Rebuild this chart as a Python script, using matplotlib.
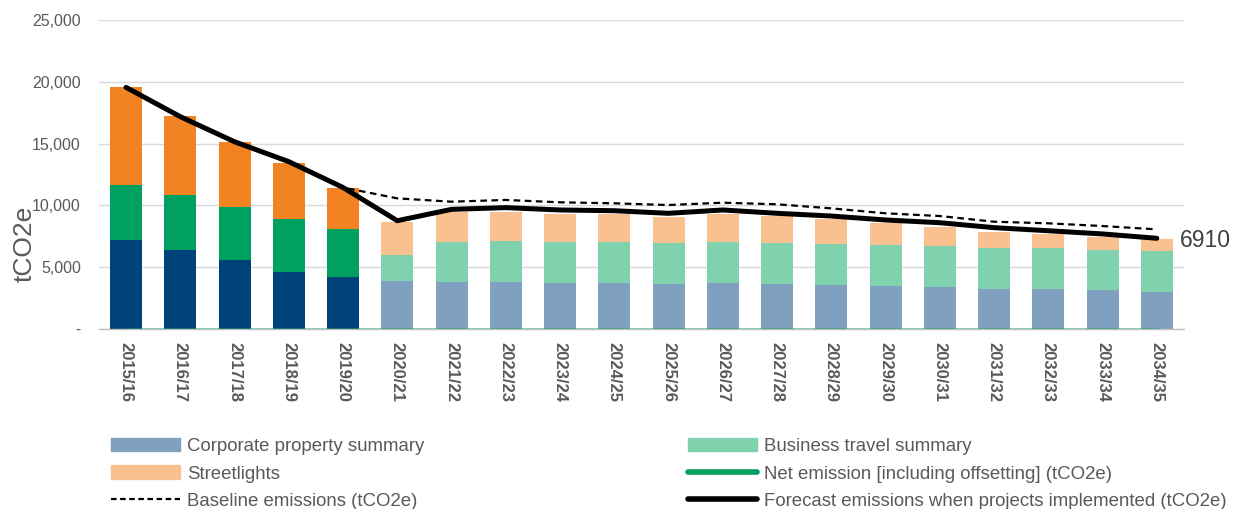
import matplotlib
matplotlib.use("Agg")
import matplotlib.pyplot as plt
from matplotlib.patches import Patch
from matplotlib.lines import Line2D
from matplotlib.ticker import FuncFormatter

plt.rcParams['font.family'] = ['Liberation Sans', 'DejaVu Sans']

years = ['2015/16', '2016/17', '2017/18', '2018/19', '2019/20', '2020/21', '2021/22',
         '2022/23', '2023/24', '2024/25', '2025/26', '2026/27', '2027/28', '2028/29',
         '2029/30', '2030/31', '2031/32', '2032/33', '2033/34', '2034/35']
corporate = [7200, 6390, 5580, 4610, 4210, 3880, 3800, 3800, 3720, 3720, 3640, 3720,
             3640, 3560, 3480, 3370, 3260, 3240, 3160, 2990]
business = [4450, 4450, 4290, 4290, 3880, 2110, 3260, 3300, 3320, 3320, 3320, 3320,
            3320, 3320, 3320, 3350, 3290, 3310, 3260, 3350]
streetlights = [7930, 6390, 5260, 4530, 3320, 2690, 2410, 2400, 2260, 2260, 2120, 2260,
                2180, 2020, 1800, 1560, 1330, 1110, 1000, 970]
net_emission = [0] * 20
baseline = [19550, 17180, 15150, 13540, 11450, 10570, 10300, 10440, 10250, 10170, 10030,
            10220, 10090, 9760, 9360, 9140, 8680, 8550, 8330, 8060]
forecast = [19550, 17180, 15150, 13540, 11450, 8760, 9680, 9820, 9630, 9570, 9360, 9630,
            9360, 9140, 8820, 8600, 8200, 7950, 7690, 7340]
end_label = "6910"
n_actual = 5

dark = {'corp': '#00427A', 'bus': '#00A160', 'str': '#F28322'}
light = {'corp': '#7FA1BF', 'bus': '#80D1AE', 'str': '#F9C190'}
grey = '#595959'

fig = plt.figure(figsize=(12.33, 5.09), dpi=100)
ax = fig.add_axes([98.9 / 1233, 1 - 329 / 509, 1085 / 1233, 309 / 509])

x = list(range(len(years)))
def cols(key):
    return [dark[key] if i < n_actual else light[key] for i in x]

w = 0.59
ax.bar(x, corporate, width=w, color=cols('corp'), zorder=2)
bot2 = [a for a in corporate]
ax.bar(x, business, width=w, bottom=bot2, color=cols('bus'), zorder=2)
bot3 = [a + b for a, b in zip(corporate, business)]
ax.bar(x, streetlights, width=w, bottom=bot3, color=cols('str'), zorder=2)

ax.plot(x, net_emission, color='#00A160', lw=2.0, zorder=3, alpha=0.45)
ax.plot(x, baseline, color='black', lw=1.6, dashes=(3, 2), zorder=3)
ax.plot(x, forecast, color='black', lw=3.6, solid_capstyle='round',
        solid_joinstyle='round', zorder=4)

ax.text(19.42, 7200, end_label, fontsize=16.5, color='#404040', va='center', ha='left',
        clip_on=False)

ax.set_xlim(-0.5, 19.5)
ax.set_ylim(0, 25000)
ax.set_yticks(range(0, 25001, 5000))
ax.yaxis.set_major_formatter(FuncFormatter(lambda v, p: '-' if v == 0 else f'{int(v):,}'))
ax.grid(axis='y', color='#D9D9D9', lw=1, zorder=0)
ax.set_axisbelow(True)
ax.set_xticks(x)
ax.set_xticklabels(years, rotation=-90, fontweight='bold', fontsize=12, color=grey)
ax.tick_params(axis='x', length=0, pad=9)
ax.tick_params(axis='y', length=0, pad=13, labelsize=11.5, labelcolor=grey)
for s in ['top', 'right', 'left']:
    ax.spines[s].set_visible(False)
ax.spines['bottom'].set_color('#BFBFBF')
ax.spines['bottom'].set_linewidth(1)

ax.text(-0.068, 0.275, 'tCO2e', transform=ax.transAxes, rotation=90, fontsize=19,
        color=grey, ha='center', va='center')

h_corp = Patch(color=light['corp'])
h_str = Patch(color=light['str'])
h_base = Line2D([], [], color='black', lw=1.6, dashes=(2.5, 1.6))
h_bus = Patch(color=light['bus'])
h_net = Line2D([], [], color='#00A160', lw=4, solid_capstyle='round')
h_fc = Line2D([], [], color='black', lw=4, solid_capstyle='round')

common = dict(frameon=False, fontsize=13.4, handlelength=3.7, handletextpad=0.4,
              labelspacing=0.56, borderpad=0, borderaxespad=0, loc='center left',
              labelcolor=grey)
fig.legend([h_corp, h_str, h_base],
           ['Corporate property summary', 'Streetlights', 'Baseline emissions (tCO2e)'],
           bbox_to_anchor=(111 / 1233, 1 - 474 / 509), **common)
fig.legend([h_bus, h_net, h_fc],
           ['Business travel summary', 'Net emission [including offsetting] (tCO2e)',
            'Forecast emissions when projects implemented (tCO2e)'],
           bbox_to_anchor=(688 / 1233, 1 - 474 / 509), **common)

fig.savefig('out.png', dpi=100)
